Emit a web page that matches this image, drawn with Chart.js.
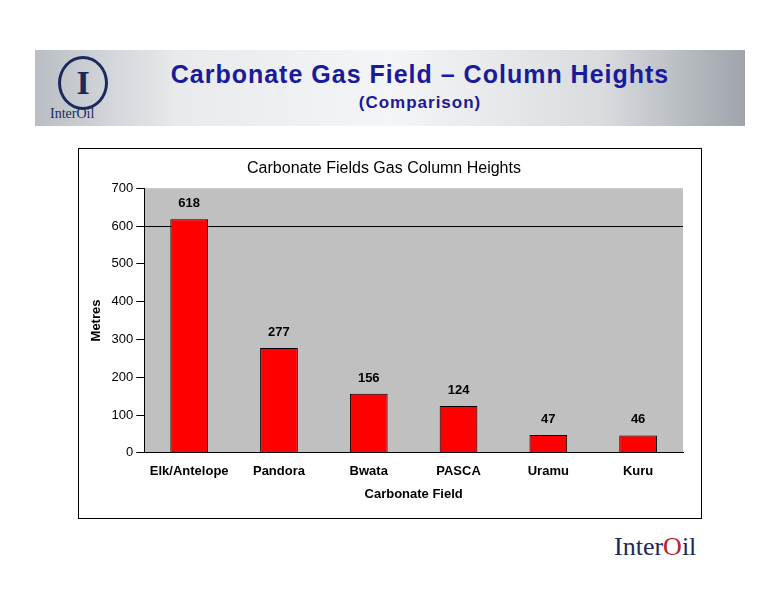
<!DOCTYPE html>
<html><head><meta charset="utf-8">
<script src="https://cdn.jsdelivr.net/npm/chart.js@4"></script>
<style>
body{margin:0;width:776px;height:600px;background:#fff;position:relative;font-family:"Liberation Sans",Arial,sans-serif;overflow:hidden}
#banner{position:absolute;left:35px;top:50px;width:710px;height:76px;background:linear-gradient(90deg,#b9bec4 0%,#e8eaec 20%,#f4f5f6 50%,#d9dcdf 80%,#9ea4aa 100%)}
#title{position:absolute;left:100px;width:640px;top:60px;text-align:center;color:#1a1a9a;font-weight:bold;font-size:25px;letter-spacing:1px}
#sub{position:absolute;left:100px;width:640px;top:93px;text-align:center;color:#1a1a9a;font-weight:bold;font-size:17px;letter-spacing:1px}
#logo{position:absolute;left:58px;top:56px;width:44px;height:48px;border:3px solid #1a2a5a;border-radius:50%;text-align:center;font:bold 34px "Liberation Serif",serif;color:#1a2a5a;line-height:48px}
#logoT{position:absolute;left:50px;top:106px;font:14px "Liberation Serif",serif;color:#1a2a5a}
#box{position:absolute;left:78px;top:148px;width:622px;height:369px;border:1px solid #000}
#foot{position:absolute;left:614px;top:532px;font:26px "Liberation Serif",serif;color:#1a2a5a}
#foot span{color:#c02020}
</style></head><body>
<div id="banner"></div>
<div id="logo">I</div><div id="logoT">InterOil</div>
<div id="title">Carbonate Gas Field – Column Heights</div>
<div id="sub">(Comparison)</div>
<div id="box"><canvas id="c" width="622" height="369"></canvas></div>
<div id="foot">Inter<span>O</span>il</div>
<script>
const categories = ["Elk/Antelope","Pandora","Bwata","PASCA","Uramu","Kuru"];
const heights = [618,277,156,124,47,46];

const labelPlugin = {
  id: "labels",
  afterDatasetsDraw(chart) {
    const ctx = chart.ctx;
    ctx.save();
    ctx.font = "bold 13px 'Liberation Sans', Arial";
    ctx.fillStyle = "#000";
    ctx.textAlign = "center";
    chart.getDatasetMeta(0).data.forEach((bar, i) => {
      ctx.fillText(heights[i], bar.x, bar.y - 12);
    });
    ctx.restore();
  }
};
const bgPlugin = {
  id: "bg",
  beforeDraw(chart) {
    const a = chart.chartArea, ctx = chart.ctx;
    ctx.save();
    ctx.fillStyle = "#c0c0c0";
    ctx.fillRect(a.left, a.top, a.right - a.left, a.bottom - a.top);
    ctx.restore();
  }
};

new Chart(document.getElementById("c"), {
  type: "bar",
  data: {
    labels: categories,
    datasets: [{ data: heights, backgroundColor: "#ff0000", borderColor: "#000", borderWidth: 1, barPercentage: 0.42, categoryPercentage: 1 }]
  },
  options: {
    responsive: false,
    animation: false,
    layout: { padding: { right: 18, bottom: 12, left: 6 } },
    plugins: {
      legend: { display: false },
      tooltip: { enabled: false },
      title: { display: true, text: "Carbonate Fields Gas Column Heights", color: "#000", font: { size: 16, family: "Liberation Sans", weight: "normal" }, padding: { top: 10, bottom: 10 } }
    },
    scales: {
      y: {
        min: 0, max: 700,
        ticks: { stepSize: 100, color: "#000", font: { size: 13, family: "Liberation Sans" } },
        grid: { color: c => c.tick && c.tick.value === 600 ? "#000" : "rgba(0,0,0,0)", tickColor: "#000" },
        border: { color: "#000" },
        title: { display: true, text: "Metres", color: "#000", font: { size: 13, weight: "bold", family: "Liberation Sans" } }
      },
      x: {
        ticks: { color: "#000", font: { size: 13, weight: "bold", family: "Liberation Sans" } },
        grid: { display: false },
        border: { color: "#000" },
        title: { display: true, text: "Carbonate Field", color: "#000", font: { size: 13, weight: "bold", family: "Liberation Sans" } }
      }
    }
  },
  plugins: [bgPlugin, labelPlugin]
});
</script>
</body></html>
